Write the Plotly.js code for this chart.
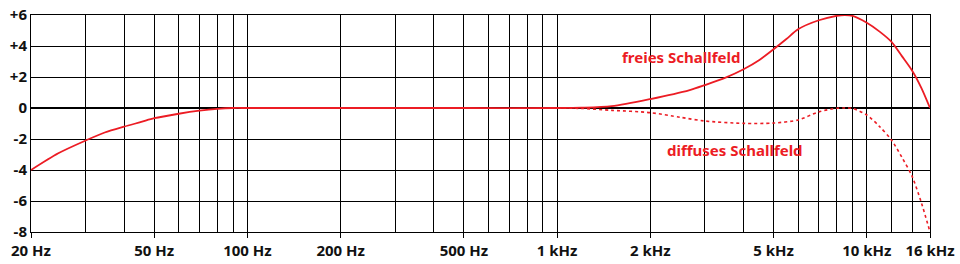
<!DOCTYPE html>
<html>
<head>
<meta charset="utf-8">
<script src="https://cdn.plot.ly/plotly-3.0.1.min.js"></script>
<style>html,body{margin:0;padding:0;background:#fff;}#chart{width:960px;height:264px;}</style>
</head>
<body>
<div id="chart"></div>
<script>
// Frequency response (dB)
const freeFreq = [20, 24.5, 30, 34.6, 40, 45.4, 50, 60, 70, 80, 90, 100, 200, 500, 1000, 1200, 1500, 2000, 2680, 3000, 3500, 4000, 4500, 5000, 5500, 6000, 7000, 8000, 8500, 9000, 10000, 11000, 12000, 13000, 14000, 15000, 16000];
const freeDb   = [-4, -2.92, -2.1, -1.58, -1.2, -0.9, -0.66, -0.37, -0.17, -0.05, 0, 0, 0, 0, 0, 0.02, 0.12, 0.58, 1.16, 1.48, 1.96, 2.5, 3.1, 3.79, 4.45, 5.08, 5.66, 5.95, 6.0, 5.94, 5.5, 4.93, 4.28, 3.33, 2.42, 1.3, 0];
const diffFreq = [1000, 1200, 1500, 2000, 2500, 3000, 4000, 5000, 6000, 7000, 8000, 8500, 9000, 10000, 11000, 12000, 13000, 14000, 15000, 16000];
const diffDb   = [0, -0.03, -0.15, -0.3, -0.6, -0.84, -0.99, -0.97, -0.77, -0.25, -0.02, 0, -0.03, -0.45, -1.2, -2.05, -3.2, -4.4, -6.1, -8];

const xTickVals = [20, 50, 100, 200, 500, 1000, 2000, 5000, 10000, 16000];
const xTickText = ['20 Hz', '50 Hz', '100 Hz', '200 Hz', '500 Hz', '1 kHz', '2 kHz', '5 kHz', '10 kHz', '16 kHz'];
const xMinorVals = [30, 40, 60, 70, 80, 90, 300, 400, 600, 700, 800, 900, 3000, 4000, 6000, 7000, 8000, 9000, 12000, 14000];
const yTickVals = [-8, -6, -4, -2, 0, 2, 4, 6];
const yTickText = ['-8', '-6', '-4', '-2', '0', '+2', '+4', '+6'];

const labelFree = 'freies Schallfeld';
const labelDiff = 'diffuses Schallfeld';

const red = '#ec1c24';
const fam = 'Noto Sans, Open Sans, sans-serif';
const font = {family: fam, size: 15, color: '#111', weight: 'bold'};

const traces = [
  {x: diffFreq, y: diffDb, type: 'scatter', mode: 'lines', line: {color: red, width: 1.6, dash: '3px,3px', shape: 'spline', smoothing: 0.8}, hoverinfo: 'skip'},
  {x: freeFreq, y: freeDb, type: 'scatter', mode: 'lines', line: {color: red, width: 1.8, shape: 'spline', smoothing: 0.8}, hoverinfo: 'skip'}
];

const layout = {
  width: 960, height: 264,
  margin: {l: 31, r: 30, t: 15, b: 32},
  paper_bgcolor: '#fff', plot_bgcolor: '#fff',
  showlegend: false,
  font: font,
  xaxis: {
    type: 'log',
    range: [Math.log10(20), Math.log10(16000)],
    tickmode: 'array', tickvals: xTickVals, ticktext: xTickText,
    ticks: 'outside', ticklen: 5, tickcolor: '#000', tickwidth: 1,
    showgrid: true, gridcolor: '#000', gridwidth: 1,
    minor: {tickmode: 'array', tickvals: xMinorVals, showgrid: true, gridcolor: '#000', gridwidth: 1, ticks: ''},
    showline: true, linecolor: '#000', linewidth: 1, mirror: true,
    zeroline: false,
    tickfont: font,
    fixedrange: true
  },
  yaxis: {
    range: [-8, 6],
    tickmode: 'array', tickvals: yTickVals, ticktext: yTickText,
    ticks: '', showgrid: true, gridcolor: '#000', gridwidth: 1,
    zeroline: true, zerolinecolor: '#000', zerolinewidth: 1.6,
    showline: true, linecolor: '#000', linewidth: 1, mirror: true,
    tickfont: font,
    fixedrange: true
  },
  annotations: [
    {x: Math.log10(2510), y: 3.3, xref: 'x', yref: 'y', text: labelFree, showarrow: false, font: {family: fam, size: 15, color: red, weight: 'bold'}},
    {x: Math.log10(3750), y: -2.71, xref: 'x', yref: 'y', text: labelDiff, showarrow: false, font: {family: fam, size: 15, color: red, weight: 'bold'}}
  ]
};

Plotly.newPlot('chart', traces, layout, {staticPlot: true, displayModeBar: false});
</script>
</body>
</html>
